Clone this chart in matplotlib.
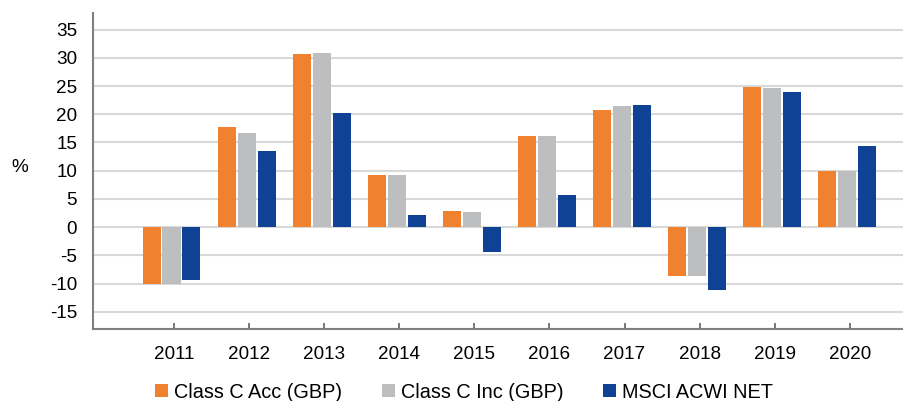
import matplotlib
matplotlib.use("Agg")
import matplotlib.pyplot as plt
import numpy as np

plt.rcParams['font.family'] = ['Liberation Sans', 'DejaVu Sans']

years = ["2011", "2012", "2013", "2014", "2015", "2016", "2017", "2018", "2019", "2020"]
class_c_acc = [-10.1, 17.7, 30.6, 9.3, 2.8, 16.1, 20.7, -8.6, 24.8, 10.0]
class_c_inc = [-10.1, 16.6, 30.9, 9.3, 2.6, 16.1, 21.4, -8.6, 24.6, 10.0]
msci_acwi = [-9.4, 13.4, 20.3, 2.1, -4.5, 5.6, 21.6, -11.2, 24.0, 14.3]
series_names = ["Class C Acc (GBP)", "Class C Inc (GBP)", "MSCI ACWI NET"]
yticks = [-15, -10, -5, 0, 5, 10, 15, 20, 25, 30, 35]

colors = ["#F0812E", "#BDBEC0", "#0F4194"]
FS = 13.6
LFS = 14.3

fig = plt.figure(figsize=(9.04, 4.01), dpi=100)
ax = fig.add_axes([0.1029, 0.1796, 0.897, 0.7888])

x = np.arange(len(years))
w = 0.24
off = 0.266
shift = -0.033
for i, (vals, c, name) in enumerate(zip([class_c_acc, class_c_inc, msci_acwi], colors, series_names)):
    ax.bar(x + shift + (i - 1) * off, vals, width=w, color=c, label=name, zorder=3)

ax.set_xlim(-1.078, 9.72)
ax.set_ylim(-18.06, 38)
ax.set_yticks(yticks)
ax.set_yticklabels([str(v) for v in yticks], fontsize=FS)
ax.set_xticks(x)
ax.set_xticklabels(years, fontsize=FS)
ax.grid(axis='y', color='#D9D9D9', linewidth=1.5, zorder=0)
ax.set_axisbelow(True)

for s in ['top', 'right']:
    ax.spines[s].set_visible(False)
for s in ['left', 'bottom']:
    ax.spines[s].set_color('#808080')
    ax.spines[s].set_linewidth(1.5)

ax.tick_params(axis='y', length=0, pad=11.5, colors='black')
ax.tick_params(axis='x', direction='in', length=4, width=1.2, color='#606060', pad=12)

ax.set_ylabel('%', fontsize=FS, rotation=0, ha='center', va='center')
ax.yaxis.set_label_coords(-0.0906, 0.51)

handles, labels = ax.get_legend_handles_labels()
fig.legend(handles, labels, loc='center left', bbox_to_anchor=(0.1715, 0.022), ncol=3,
           frameon=False, fontsize=LFS, handlelength=0.66, handleheight=0.66,
           handletextpad=0.3, columnspacing=2.0, borderpad=0, borderaxespad=0)

fig.savefig('out.png', dpi=100)
